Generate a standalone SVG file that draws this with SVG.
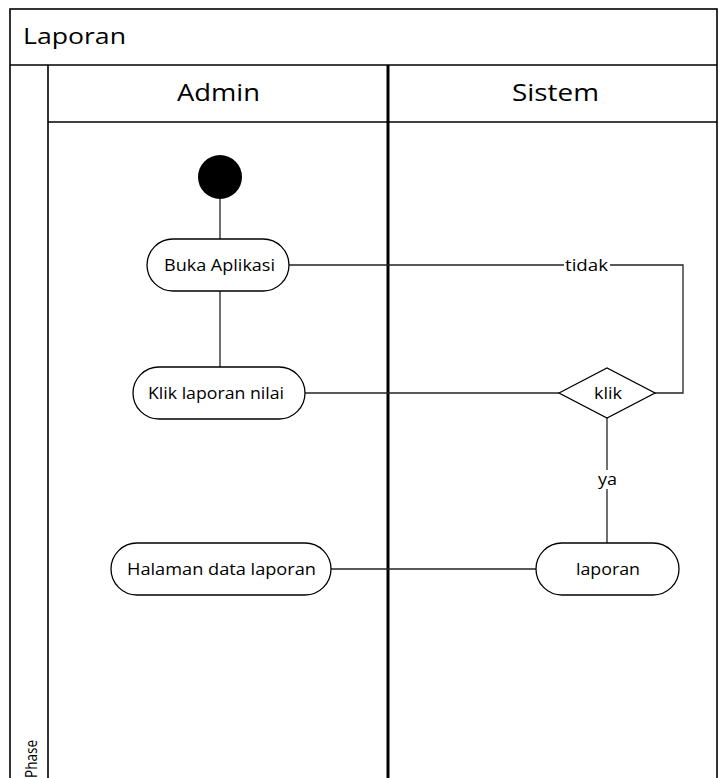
<svg xmlns="http://www.w3.org/2000/svg" width="719" height="778" viewBox="0 0 719 778">
<style>
.frame{fill:none;stroke:#000;stroke-width:1.6}
.div{fill:none;stroke:#000;stroke-width:3}
.node{fill:#fff;stroke:#000;stroke-width:1.3}
.conn{fill:none;stroke:#222;stroke-width:1.3}
.hdr{font-family:"Open Sans","Liberation Sans",sans-serif;font-size:21px;fill:#000}
.lbl{font-family:"Open Sans","Liberation Sans",sans-serif;font-size:16px;fill:#000;text-anchor:middle;dominant-baseline:central}
</style>
<rect width="719" height="778" fill="#fff"/>
<g id="pool">
<rect class="frame" x="10" y="9" width="707" height="780"/>
<line class="frame" x1="10" y1="65" x2="717" y2="65"/>
<line class="frame" x1="48" y1="65" x2="48" y2="778"/>
<line class="frame" x1="48" y1="122" x2="717" y2="122"/>
<line class="div" x1="388" y1="65" x2="388" y2="778"/>
<text class="hdr" x="23" y="44" style="font-size:22px" textLength="103" lengthAdjust="spacingAndGlyphs">Laporan</text>
<text class="hdr" x="177" y="101" style="font-size:23px" textLength="83" lengthAdjust="spacingAndGlyphs">Admin</text>
<text class="hdr" x="512" y="101" style="font-size:23px" textLength="87" lengthAdjust="spacingAndGlyphs">Sistem</text>
<text class="hdr" style="font-size:16px" transform="translate(37,778) rotate(-90)" textLength="38" lengthAdjust="spacingAndGlyphs">Phase</text>
</g>
<g id="connectors">
<line class="conn" x1="220" y1="199" x2="220" y2="239"/>
<line class="conn" x1="220" y1="291" x2="220" y2="367"/>
<line class="conn" x1="305" y1="393" x2="559" y2="393"/>
<polyline class="conn" points="655,393 683,393 683,265 289,265"/>
<rect x="564" y="256" width="46" height="18" fill="#fff"/>
<text class="lbl" x="586.5" y="265" textLength="43" lengthAdjust="spacingAndGlyphs">tidak</text>
<line class="conn" x1="607" y1="418" x2="607" y2="543"/>
<rect x="596" y="470" width="23" height="19" fill="#fff"/>
<text class="lbl" x="607.5" y="479" textLength="19" lengthAdjust="spacingAndGlyphs">ya</text>
<line class="conn" x1="536" y1="569" x2="331" y2="569"/>
</g>
<g id="start"><circle cx="220" cy="177" r="22" fill="#000"/></g>
<g id="buka"><rect class="node" x="147" y="239" width="142" height="52" rx="26"/><text class="lbl" x="219.5" y="265" textLength="111" lengthAdjust="spacingAndGlyphs">Buka Aplikasi</text></g>
<g id="kliklaporan"><rect class="node" x="133" y="367" width="172" height="52" rx="26"/><text class="lbl" x="216" y="393" textLength="136" lengthAdjust="spacingAndGlyphs">Klik laporan nilai</text></g>
<g id="klik"><polygon class="node" points="559,393 607,368 655,393 607,418"/><text class="lbl" x="608" y="393" textLength="28" lengthAdjust="spacingAndGlyphs">klik</text></g>
<g id="laporan"><rect class="node" x="536" y="543" width="143" height="52" rx="26"/><text class="lbl" x="608" y="569" textLength="64" lengthAdjust="spacingAndGlyphs">laporan</text></g>
<g id="halaman"><rect class="node" x="111" y="543" width="220" height="52" rx="26"/><text class="lbl" x="221.5" y="569" textLength="189" lengthAdjust="spacingAndGlyphs">Halaman data laporan</text></g>
</svg>
